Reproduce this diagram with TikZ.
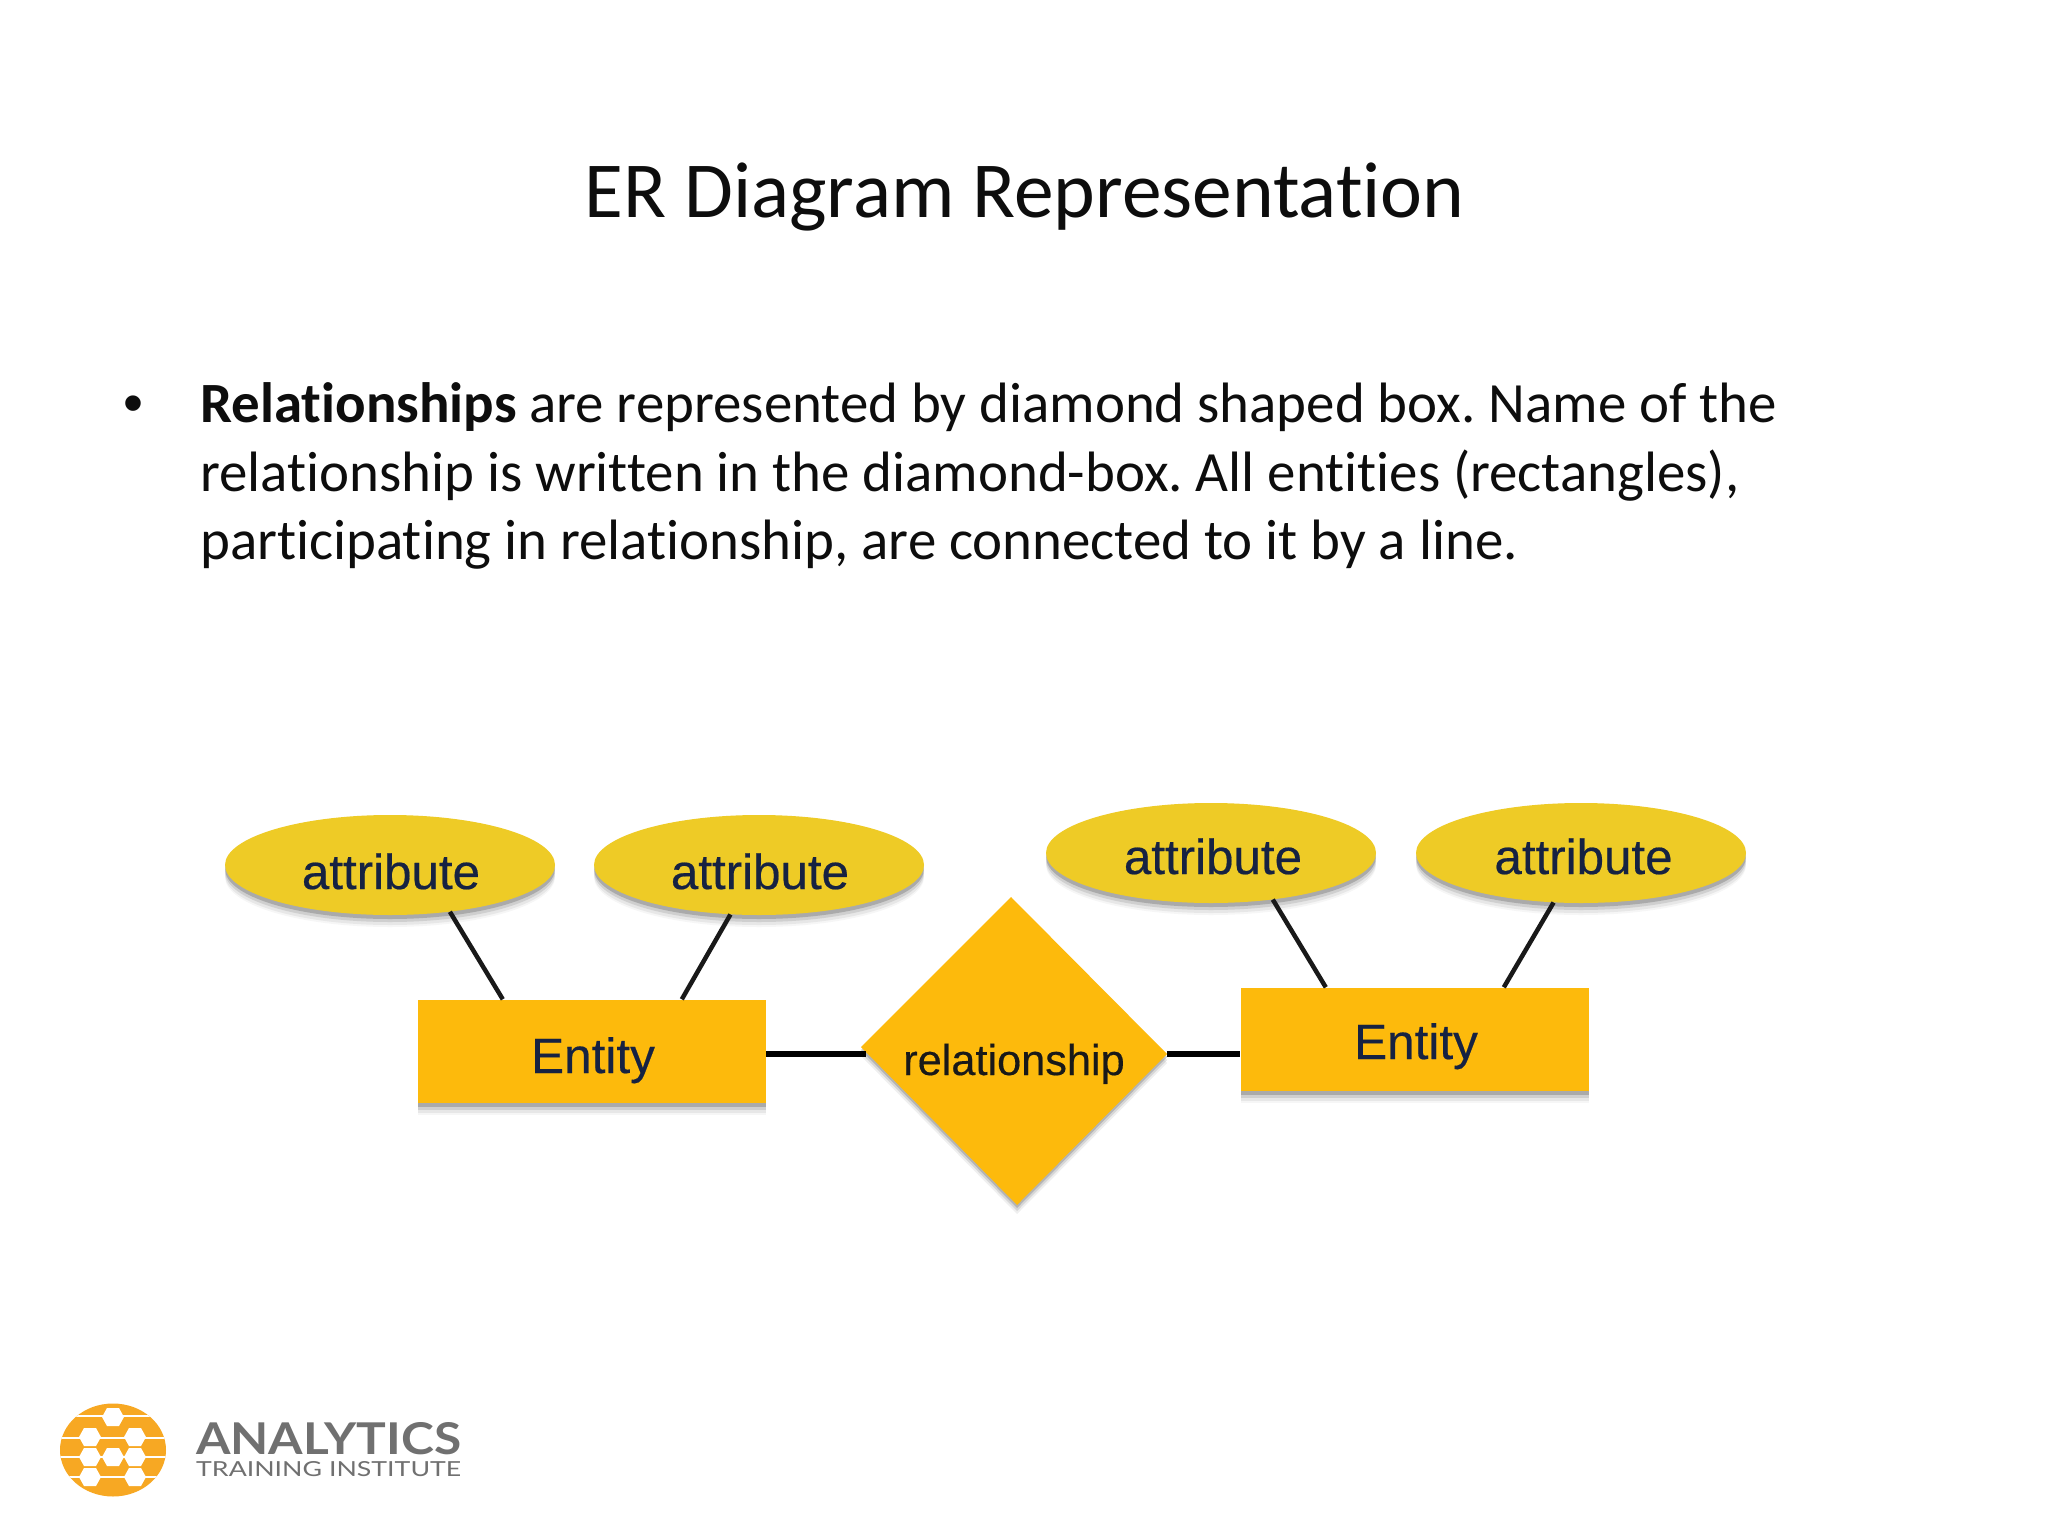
\documentclass[tikz,border=0pt]{standalone}
\usepackage{fontspec}
\usepackage{graphicx}
\setmainfont[RawFeature={-liga}]{Carlito}
\newfontfamily\helv[FakeBold=0.4]{Liberation Sans}
\newfontfamily\bulfont{Liberation Sans}
\newfontfamily\logofont{Lato}
\usetikzlibrary{shapes.geometric,shadows,calc}
\definecolor{ellfill}{RGB}{238,203,38}
\definecolor{boxfill}{RGB}{253,186,12}
\definecolor{navytext}{RGB}{22,34,66}
\definecolor{logoorange}{RGB}{247,168,35}
\definecolor{logogray}{RGB}{112,112,112}
\tikzset{
  softshadow/.style={
    general shadow={fill=black!60,opacity=.06,shadow yshift=-12pt},
    general shadow={fill=black!60,opacity=.10,shadow yshift=-10pt},
    general shadow={fill=black!60,opacity=.18,shadow yshift=-7pt},
    general shadow={fill=black!60,opacity=.35,shadow yshift=-4pt}},
  attrshape/.style={ellipse,fill=ellfill,draw=none,inner sep=0pt,minimum width=330pt,minimum height=100pt,softshadow},
  entityshape/.style={rectangle,fill=boxfill,draw=none,inner sep=0pt,minimum width=348pt,minimum height=103pt,softshadow},
  attrtext/.style={anchor=base,text=navytext,font=\helv\fontsize{49.3}{49}\selectfont,inner sep=0pt},
  entitytext/.style={anchor=base,text=navytext,font=\helv\fontsize{49.5}{49}\selectfont,inner sep=0pt},
  reltext/.style={anchor=base,text=black!90,font=\helv\fontsize{43.3}{43}\selectfont,inner sep=0pt},
  conn/.style={draw=black!90,line width=4.5pt},
  hconn/.style={draw=black,line width=5.5pt},
  bodyline/.style={anchor=base west,inner sep=0pt,text=black!95,font=\frenchspacing\fontsize{56.9}{69}\selectfont},
}
\begin{document}
\begin{tikzpicture}[x=1pt,y=-1pt]
\useasboundingbox (0,0) rectangle (2048,1536);
\fill[white] (0,0) rectangle (2048,1536);
% title and text
\node[anchor=base,inner sep=0pt,text=black!95,font=\fontsize{79.4}{80}\selectfont] (title) at (1024.5,217) {ER Diagram Representation};
\node[anchor=base,inner sep=0pt,text=black!95,font=\bulfont\fontsize{57}{57}\selectfont] (bul) at (133,422) {•};
\node[bodyline] (l1) at (200,422) {\textbf{Relationships} are represented by diamond shaped box. Name of the};
\node[bodyline] (l2) at (200,491) {relationship is written in the diamond-box. All entities (rectangles),};
\node[bodyline] (l3) at (200,559) {participating in relationship, are connected to it by a line.};
% attributes
\node[attrshape] (a1) at (390,865) {};
\node[attrshape] (a2) at (759,865) {};
\node[attrshape] (a3) at (1211,853) {};
\node[attrshape] (a4) at (1581,853) {};
\node[attrtext] (a1t) at (391,889) {attribute};
\node[attrtext] (a2t) at (760,889) {attribute};
\node[attrtext] (a3t) at (1213,874) {attribute};
\node[attrtext] (a4t) at (1583.5,874) {attribute};
% entities
\node[entityshape] (e1) at (592,1051) {};
\node[entityshape] (e2) at (1414.5,1039) {};
\node[entitytext] (e1t) at (593,1073) {Entity};
\node[entitytext] (e2t) at (1416,1059) {Entity};
% relationship diamond
\coordinate (dt) at (1011,897);
\coordinate (dr) at (1167,1054);
\coordinate (db) at (1017,1205);
\coordinate (dl) at (861,1047);
\coordinate (dlj) at (866,1054);
\foreach \s/\o in {9/.10,6/.18,3/.30}
  \fill[black!60,opacity=\o] ($(dt)+(0,\s)$) -- ($(dr)+(0,\s)$) -- ($(db)+(0,\s)$) -- ($(dl)+(0,\s)$) -- cycle;
\fill[boxfill] (dt) -- (dr) -- (db) -- (dl) -- cycle;
\node[reltext] (rt) at (1014,1075) {relationship};
% connectors
\draw[conn] (a1.-38) -- ($(e1.north west)+(85,0)$);
\draw[conn] (a2.-120) -- ($(e1.north west)+(264,0)$);
\draw[conn] (a3.-37) -- ($(e2.north west)+(85.5,0)$);
\draw[conn] (a4.-119) -- ($(e2.north west)+(263.5,0)$);
\draw[hconn] (dlj) -- (dlj -| e1.east);
\draw[hconn] (dr) -- (dr -| e2.west);
% logo
\begin{scope}
  \clip (113,1450) ellipse [x radius=53,y radius=46.5];
  \fill[logoorange] (58,1400) rectangle (168,1500);
  \foreach \yy in {1416,1438,1457,1477} \fill[white] (55,\yy-.7) rectangle (170,\yy+.7);
  \foreach \xx/\yy in {113/1417,90/1437,135/1437,90/1457,113/1457,135/1457,90/1477,135/1477}
    \fill[white] (\xx-11,\yy) -- (\xx-6,\yy-9) -- (\xx+6,\yy-9) -- (\xx+11,\yy) -- (\xx+6,\yy+9) -- (\xx-6,\yy+9) -- cycle;
\end{scope}
\node[anchor=south west,inner sep=0pt,text=logogray] (lg1) at (196,1455) {\resizebox{265pt}{32pt}{\logofont\bfseries ANALYTICS}};
\node[anchor=south west,inner sep=0pt,text=logogray] (lg2) at (196,1477) {\resizebox{265pt}{15pt}{\logofont TRAINING INSTITUTE}};
\end{tikzpicture}
\end{document}
